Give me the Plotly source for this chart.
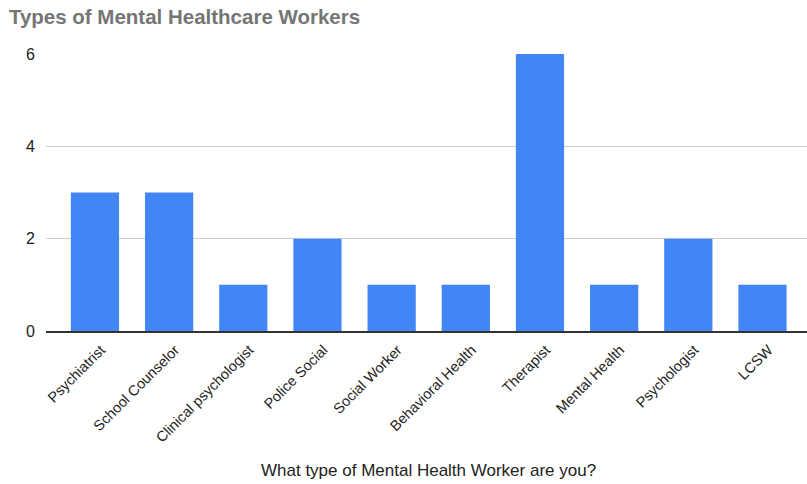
import plotly.graph_objects as go

categories = ["Psychiatrist", "School Counselor", "Clinical psychologist", "Police Social",
              "Social Worker", "Behavioral Health", "Therapist", "Mental Health",
              "Psychologist", "LCSW"]
counts = [3, 3, 1, 2, 1, 1, 6, 1, 2, 1]
y_ticks = [0, 2, 4, 6]

FONT = "Liberation Sans, Arial, sans-serif"

fig = go.Figure(go.Bar(
    x=list(range(len(categories))), y=counts,
    marker=dict(color="#4285F4", line=dict(width=0)),
    width=0.65,
))

fig.update_layout(
    width=807, height=484,
    margin=dict(l=46, r=0, t=53, b=153),
    paper_bgcolor="white", plot_bgcolor="white",
    showlegend=False,
    font=dict(family=FONT, color="#222222"),
    title=dict(text="<b>Types of Mental Healthcare Workers</b>",
               x=0.011, xanchor="left", y=0.966, yanchor="middle",
               font=dict(size=20.5, color="#757575", family=FONT)),
    xaxis=dict(
        tickmode="array", tickvals=list(range(len(categories))), ticktext=categories,
        tickangle=-45, tickfont=dict(size=14.5, color="#222222"),
        range=[-0.66, 9.6], showgrid=False, zeroline=False,
        showline=True, linecolor="#333333", linewidth=1.5,
        ticks="outside", ticklen=3, tickcolor="rgba(0,0,0,0)", automargin=False,
        ticklabelshift=6,
    ),
    yaxis=dict(
        range=[0, 6.02], tickvals=y_ticks, tickfont=dict(size=16, color="#222222"),
        showgrid=True, gridcolor="#cccccc", gridwidth=1,
        zeroline=False, showline=False, ticks="",
        ticklabelstandoff=10, automargin=False,
    ),
    annotations=[dict(
        text="What type of Mental Health Worker are you?",
        xref="paper", yref="paper", x=(428 - 46) / 761, y=(331 - 470) / 278,
        xanchor="center", yanchor="middle", showarrow=False,
        font=dict(size=17, color="#222222", family=FONT),
    )],
)

fig.write_html("out.html")
